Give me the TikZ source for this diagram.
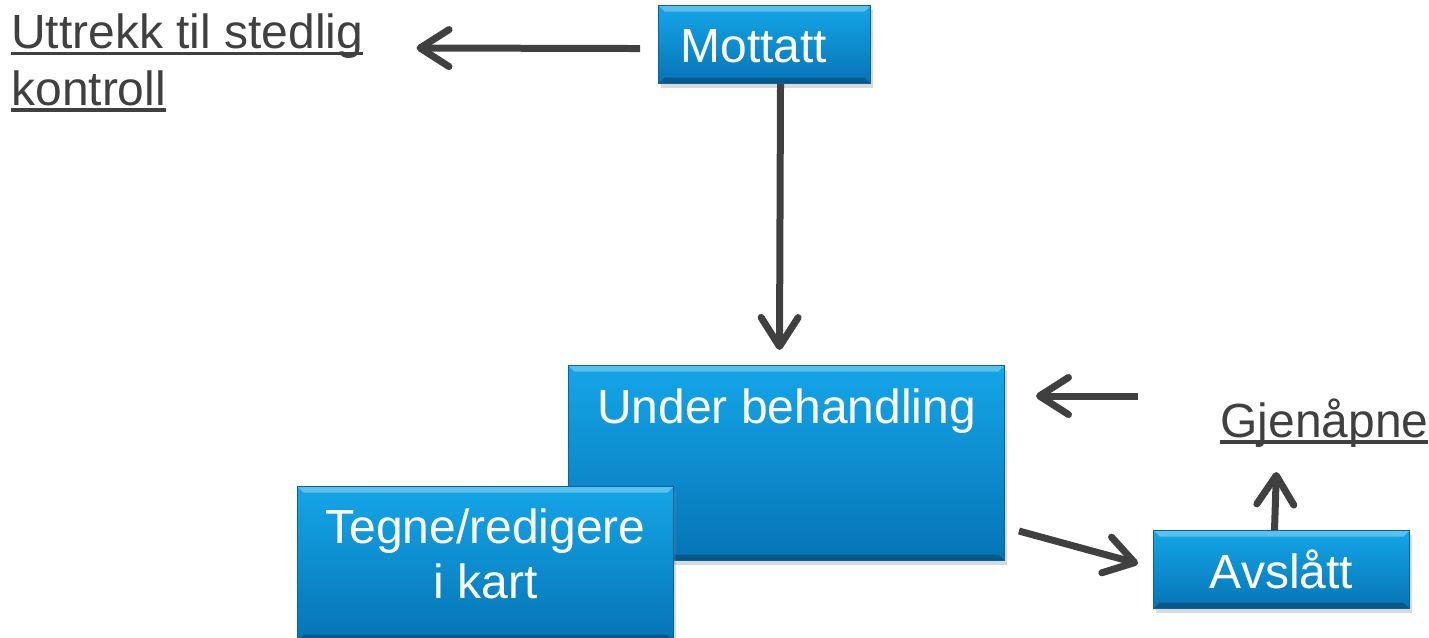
\documentclass[tikz,border=0pt]{standalone}
\usepackage{fontspec}
\setmainfont{Liberation Sans}
\usetikzlibrary{arrows.meta,calc,shadows}
\definecolor{arrowgray}{HTML}{404040}
\definecolor{boxtop}{RGB}{20,166,232}
\definecolor{boxbottom}{RGB}{6,116,182}
\definecolor{boxedge}{RGB}{8,100,158}
\newcommand{\ulink}[1]{\setbox0\hbox{#1}\rlap{\rule[-0.15em]{\wd0}{0.08em}}\box0}
\begin{document}
\begin{tikzpicture}[x=0.02cm, y=0.02cm,
    bevel/.style={path picture={
      \fill[white, opacity=0.3] (path picture bounding box.north west) -- (path picture bounding box.north east)
        -- ++(-0.12cm,-0.12cm) -- ($(path picture bounding box.north west)+(0.12cm,-0.12cm)$) -- cycle;
      \fill[black, opacity=0.25] (path picture bounding box.south west) -- (path picture bounding box.south east)
        -- ++(-0.12cm,0.12cm) -- ($(path picture bounding box.south west)+(0.12cm,0.12cm)$) -- cycle;}},
    state/.style={draw=boxedge, line width=0.6pt, top color=boxtop, bottom color=boxbottom, bevel,
      drop shadow={shadow xshift=0.05cm, shadow yshift=-0.08cm, opacity=0.3},
      text=white, inner sep=0, anchor=north west,
      font=\fontsize{27.3}{31.3}\selectfont},
    link/.style={text=arrowgray, inner sep=0, align=left,
      font=\fontsize{27.3}{32.3}\selectfont},
    arr/.style={arrowgray, line width=0.14cm, -{Straight Barb[length=0.58cm, width=0.74cm, round]}}]
        \useasboundingbox (0,0) rectangle (1429,-637);
        \node[state, minimum width=4.24cm, text width=3.36cm, inner xsep=0.44cm, align=left,
          text height=1.14cm, text depth=0.42cm] (mot) at (658,-5) {Mottatt};
        \node[state, minimum width=8.72cm, text height=1.16cm, text depth=2.74cm] (ub) at (568,-365) {Under behandling};
        \node[state, minimum width=7.52cm, align=center, text height=2.24cm, text depth=0.84cm] (tr) at (297,-486) {Tegne/redigere\\i kart};
        \node[state, minimum width=5.12cm, text height=1.16cm, text depth=0.4cm] (av) at (1153,-530) {Avslått};
        % last line sits on the base anchor
        \node[link, anchor=base west] (utt) at (11,-105) {\ulink{Uttrekk til stedlig}\\\ulink{kontroll}};
        \node[link, anchor=base west] (gj) at (1220,-437) {\ulink{Gjenåpne}};
        \coordinate (back) at (1138,-396);
        \draw[arr] ($(mot.west)+(-18,-4)$) -- ($(utt.base east)+(53,57)$);
        \draw[arr] ($(mot.south)+(16,0)$) -- ($(ub.north)+(-7,15)$);
        \draw[arr] (back) -- ($(ub.north east)+(31,-31)$);
        \draw[arr] ($(ub.south east)+(14,30)$) -- ($(av.west)+(-15,6)$);
        \draw[arr] ($(av.north)+(-7,0)$) -- ($(gj.base)+(-48,-35)$);
      \end{tikzpicture}
\end{document}
